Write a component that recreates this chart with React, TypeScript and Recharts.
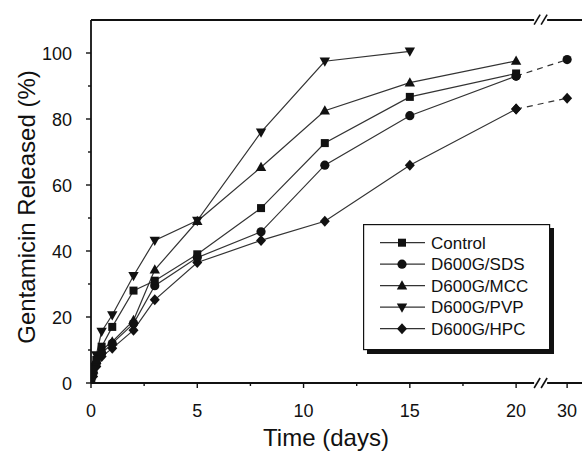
import React from "react";
import { ComposedChart, Line, XAxis, YAxis, ReferenceLine } from "recharts";

// ---- data ----
const times = [0, 0.1, 0.25, 0.5, 1, 2, 3, 5, 8, 11, 15, 20, 30];
const control = [0, 4, 7, 11, 17, 28, 31, 39, 53, 72.7, 86.7, 93.8, null];
const sds = [0, 3, 6, 9, 12, 18, 29.5, 38, 45.8, 66, 81, 93, null];
const sdsTail = [null, null, null, null, null, null, null, null, null, null, null, 93, 98];
const mcc = [0, 4, 7, 10, 12.5, 19, 34.3, 49, 65.4, 82.5, 91, 97.6, null];
const pvp = [0, 5, 8.5, 15.6, 20.6, 32.5, 43.2, 49.2, 76, 97.5, 100.5, null, null];
const hpc = [0, 2, 5, 8, 10.5, 16, 25.2, 36.5, 43.2, 49, 66, 83, null];
const hpcTail = [null, null, null, null, null, null, null, null, null, null, null, 83, 86.3];

const seriesNames = ["Control", "D600G/SDS", "D600G/MCC", "D600G/PVP", "D600G/HPC"];
const seriesShapes = ["square", "circle", "up", "down", "diamond"];

const xMajorTicks = [0, 5, 10, 15, 20, 30];
const xMinorTicks = [2.5, 7.5, 12.5, 17.5];
const yMajorTicks = [0, 20, 40, 60, 80, 100];
const yMinorTicks = [10, 30, 50, 70, 90];

const xTitle = "Time (days)";
const yTitle = "Gentamicin Released (%)";

// broken axis: 20..30 compressed
const BREAK_START = 20;
const BREAK_FACTOR = 0.24;
const tx = (t: number) => (t <= BREAK_START ? t : BREAK_START + (t - BREAK_START) * BREAK_FACTOR);
const X_MAX = 23.1;
const Y_MAX = 110;

const data = times.map((t, i) => ({
  t: tx(t),
  control: control[i],
  sds: sds[i],
  sdsTail: sdsTail[i],
  mcc: mcc[i],
  pvp: pvp[i],
  hpc: hpc[i],
  hpcTail: hpcTail[i],
}));

const FONT = "'Liberation Sans', Arial, Helvetica, sans-serif";
const INK = "#111";
const LINE = "#333";

function Marker({ shape, cx, cy }: { shape: string; cx: number; cy: number }) {
  switch (shape) {
    case "square":
      return <rect x={cx - 4} y={cy - 4} width={8} height={8} fill={INK} />;
    case "circle":
      return <circle cx={cx} cy={cy} r={4.6} fill={INK} />;
    case "up":
      return <polygon points={`${cx},${cy - 5.5} ${cx + 5.2},${cy + 3.8} ${cx - 5.2},${cy + 3.8}`} fill={INK} />;
    case "down":
      return <polygon points={`${cx - 5.2},${cy - 3.8} ${cx + 5.2},${cy - 3.8} ${cx},${cy + 5.5}`} fill={INK} />;
    default:
      return <polygon points={`${cx},${cy - 5.5} ${cx + 5},${cy} ${cx},${cy + 5.5} ${cx - 5},${cy}`} fill={INK} />;
  }
}

const makeDot = (shape: string) => (props: any) => {
  const { cx, cy, index, value } = props;
  if (cx == null || cy == null || value == null || (Array.isArray(value) && value[1] == null)) {
    return <g key={`e-${shape}-${index}`} />;
  }
  return (
    <g key={`d-${shape}-${index}`}>
      <Marker shape={shape} cx={cx} cy={cy} />
    </g>
  );
};

const XTick = (props: any) => {
  const { x, y, payload } = props;
  const v = payload.value as number;
  const label = xMajorTicks.find((m) => Math.abs(tx(m) - v) < 1e-6);
  const major = label !== undefined;
  return (
    <g>
      <line x1={x} x2={x} y1={y} y2={y + (major ? 5 : 3)} stroke={INK} strokeWidth={1.4} />
      {major && (
        <text x={x} y={y + 34} textAnchor="middle" fontSize={18} fontFamily={FONT} fill={INK}>
          {label}
        </text>
      )}
    </g>
  );
};

const YTick = (props: any) => {
  const { x, y, payload } = props;
  const v = payload.value as number;
  const major = yMajorTicks.includes(v);
  return (
    <g>
      <line x1={x - (major ? 5 : 3)} x2={x} y1={y} y2={y} stroke={INK} strokeWidth={1.4} />
      {major && (
        <text x={x - 19} y={y + 6.5} textAnchor="end" fontSize={18} fontFamily={FONT} fill={INK}>
          {v}
        </text>
      )}
    </g>
  );
};

const LegendBox = () => (
  <svg width={194} height={132} style={{ position: "absolute", left: 363, top: 224, overflow: "visible" }}>
    <rect x={4} y={4} width={187} height={126} fill={INK} />
    <rect x={0.6} y={0.6} width={186} height={125} fill="#fff" stroke={INK} strokeWidth={1.2} />
    {seriesNames.map((name, i) => {
      const ry = 18.7 + 21.5 * i;
      return (
        <g key={name}>
          <line x1={17} x2={62} y1={ry} y2={ry} stroke={LINE} strokeWidth={1.2} />
          <Marker shape={seriesShapes[i]} cx={39} cy={ry} />
          <text x={68} y={ry + 6} fontSize={17} fontFamily={FONT} fill={INK}>
            {name}
          </text>
        </g>
      );
    })}
  </svg>
);

const px2x = (px: number) => (px - 91) / 21.25;
const py2y = (py: number) => (383.3 - py) / 3.3;

export default function App() {
  const axisStroke = { stroke: INK, strokeWidth: 1.8 };
  const leftEnd = px2x(534);
  const rightStart = px2x(547);
  const slashes = (baseY: number) => [
    [
      { x: px2x(534), y: py2y(baseY + 5) },
      { x: px2x(540), y: py2y(baseY - 5) },
    ],
    [
      { x: px2x(541), y: py2y(baseY + 5) },
      { x: px2x(547), y: py2y(baseY - 5) },
    ],
  ];
  return (
    <div style={{ position: "absolute", left: 0, top: 0, width: 582, height: 453, background: "#fff" }}>
      <ComposedChart
        width={582}
        height={453}
        data={data}
        margin={{ top: 20, right: 0, bottom: 40, left: 31 }}
        style={{ overflow: "visible" }}
      >
        <XAxis
          dataKey="t"
          type="number"
          domain={[0, X_MAX]}
          allowDataOverflow
          ticks={[...xMajorTicks.map(tx), ...xMinorTicks]}
          tick={<XTick />}
          tickLine={false}
          axisLine={false}
          tickSize={0}
          tickMargin={0}
          height={30}
          interval={0}
          label={{
            content: () => (
              <text x={326} y={446} textAnchor="middle" fontSize={24} fontFamily={FONT} fill={INK}>
                {xTitle}
              </text>
            ),
          }}
        />
        <YAxis
          type="number"
          domain={[0, Y_MAX]}
          allowDataOverflow
          ticks={[...yMajorTicks, ...yMinorTicks]}
          tick={<YTick />}
          tickLine={false}
          axisLine={{ stroke: INK, strokeWidth: 1.8 }}
          tickSize={0}
          tickMargin={0}
          width={60}
          interval={0}
          label={{
            content: () => (
              <text
                transform="translate(35,207) rotate(-90)"
                textAnchor="middle"
                fontSize={24}
                fontFamily={FONT}
                fill={INK}
              >
                {yTitle}
              </text>
            ),
          }}
        />
        {/* bottom and top axis lines with break marks */}
        <ReferenceLine segment={[{ x: 0, y: 0 }, { x: leftEnd, y: 0 }]} {...axisStroke} ifOverflow="visible" />
        <ReferenceLine segment={[{ x: rightStart, y: 0 }, { x: X_MAX, y: 0 }]} {...axisStroke} ifOverflow="visible" />
        <ReferenceLine segment={[{ x: 0, y: Y_MAX }, { x: leftEnd, y: Y_MAX }]} {...axisStroke} ifOverflow="visible" />
        <ReferenceLine segment={[{ x: rightStart, y: Y_MAX }, { x: X_MAX, y: Y_MAX }]} {...axisStroke} ifOverflow="visible" />
        {[...slashes(383.3), ...slashes(20)].map((seg, i) => (
          <ReferenceLine key={`sl${i}`} segment={seg as any} stroke={INK} strokeWidth={1.6} ifOverflow="visible" />
        ))}

        <Line dataKey="hpcTail" stroke={LINE} strokeWidth={1.2} strokeDasharray="6 5" dot={makeDot("diamond")} connectNulls isAnimationActive={false} />
        <Line dataKey="sdsTail" stroke={LINE} strokeWidth={1.2} strokeDasharray="6 5" dot={makeDot("circle")} connectNulls isAnimationActive={false} />
        <Line dataKey="hpc" name="D600G/HPC" stroke={LINE} strokeWidth={1.2} dot={makeDot("diamond")} connectNulls isAnimationActive={false} />
        <Line dataKey="pvp" name="D600G/PVP" stroke={LINE} strokeWidth={1.2} dot={makeDot("down")} connectNulls isAnimationActive={false} />
        <Line dataKey="mcc" name="D600G/MCC" stroke={LINE} strokeWidth={1.2} dot={makeDot("up")} connectNulls isAnimationActive={false} />
        <Line dataKey="sds" name="D600G/SDS" stroke={LINE} strokeWidth={1.2} dot={makeDot("circle")} connectNulls isAnimationActive={false} />
        <Line dataKey="control" name="Control" stroke={LINE} strokeWidth={1.2} dot={makeDot("square")} connectNulls isAnimationActive={false} />
      </ComposedChart>
      <LegendBox />
    </div>
  );
}
